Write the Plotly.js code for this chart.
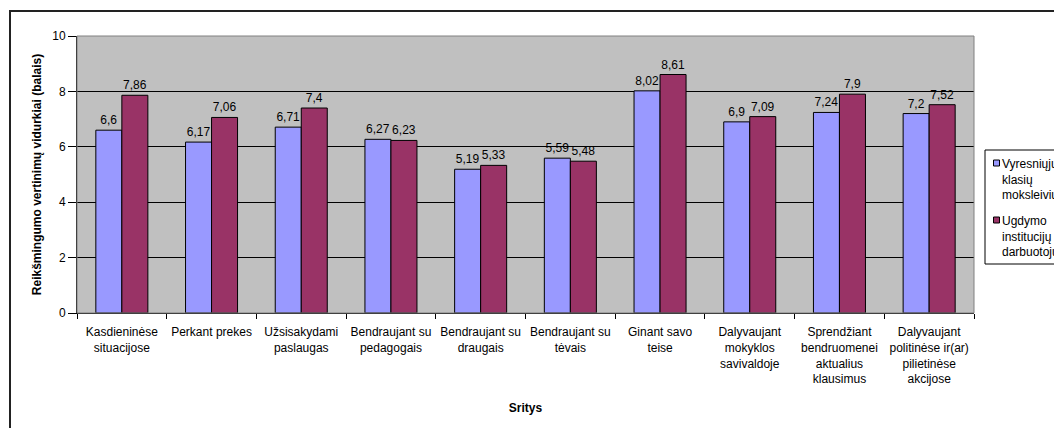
<!DOCTYPE html>
<html><head><meta charset="utf-8">
<script src="https://cdn.plot.ly/plotly-3.0.1.min.js"></script>
<style>body{margin:0;background:#fff}#c{width:1054px;height:428px}</style>
</head><body><div id="c"></div>
<script>
const categories = [
  "Kasdieninėse<br>situacijose",
  "Perkant prekes",
  "Užsisakydami<br>paslaugas",
  "Bendraujant su<br>pedagogais",
  "Bendraujant su<br>draugais",
  "Bendraujant su<br>tėvais",
  "Ginant savo<br>teise",
  "Dalyvaujant<br>mokyklos<br>savivaldoje",
  "Sprendžiant<br>bendruomenei<br>aktualius<br>klausimus",
  "Dalyvaujant<br>politinėse ir(ar)<br>pilietinėse<br>akcijose"
];
const seriesNames = ["Vyresniųjų<br>klasių<br>moksleivių", "Ugdymo<br>institucijų<br>darbuotojų"];
const seriesColors = ['#9999FF', '#993366'];
const students = [6.6, 6.17, 6.71, 6.27, 5.19, 5.59, 8.02, 6.9, 7.24, 7.2];
const staff = [7.86, 7.06, 7.4, 6.23, 5.33, 5.48, 8.61, 7.09, 7.9, 7.52];
const yTitle = "Reikšmingumo vertinimų vidurkiai (balais)";
const xTitle = "Sritys";

const fmt = v => String(v).replace('.', ',');
const font = "Liberation Sans, Arial, sans-serif";

// plot area in pixels
const L = 77, R = 974, T = 36, B = 313;
const px = p => (p - L) / (R - L);
const py = p => (B - p) / (B - T);

function bar(vals, name, color) {
  return {
    type: 'bar', x: categories, y: vals, name: name,
    marker: {color: color, line: {color: '#000', width: 1}},
    text: vals.map(fmt), textposition: 'outside', cliponaxis: false,
    textfont: {family: font, size: 12, color: '#000'},
    hoverinfo: 'skip'
  };
}

const data = [bar(students, seriesNames[0], seriesColors[0]), bar(staff, seriesNames[1], seriesColors[1])];

// custom legend (box, small square markers, texts)
const legendShapes = [
  {type: 'rect', xref: 'paper', yref: 'paper', x0: px(985), x1: px(1080), y0: py(264), y1: py(150),
   line: {color: '#000', width: 1}, fillcolor: '#fff', layer: 'above'}
];
const legendAnn = [];
const entryTop = [155, 212];
seriesNames.forEach((n, i) => {
  const cy = entryTop[i] + 8;
  legendShapes.push({type: 'rect', xref: 'paper', yref: 'paper',
    x0: px(993.5), x1: px(999.5), y0: py(cy + 3), y1: py(cy - 3),
    line: {color: '#000', width: 1}, fillcolor: seriesColors[i], layer: 'above'});
  legendAnn.push({xref: 'paper', yref: 'paper', x: px(1000), y: py(entryTop[i]),
    xanchor: 'left', yanchor: 'top', align: 'left', showarrow: false,
    text: n, font: {family: font, size: 12, color: '#000'}});
});

const layout = {
  width: 1054, height: 428,
  margin: {l: L, r: 1054 - R, t: T, b: 428 - B, autoexpand: false},
  paper_bgcolor: '#fff', plot_bgcolor: '#C0C0C0',
  font: {family: font, size: 12, color: '#000'},
  bargap: 0.42, bargroupgap: 0,
  showlegend: false,
  xaxis: {
    type: 'category', tickson: 'boundaries', ticks: 'outside', ticklen: 5, tickcolor: '#000',
    showline: true, linecolor: '#000', linewidth: 1, showgrid: false,
    tickfont: {family: font, size: 12}, tickangle: 0, ticklabelstandoff: 8,
    title: {text: xTitle, font: {family: font, size: 12, weight: 'bold'}, standoff: 18}
  },
  yaxis: {
    range: [0, 10], dtick: 2, ticks: 'outside', ticklen: 8, tickcolor: '#000',
    showline: true, linecolor: '#000', linewidth: 1,
    showgrid: true, gridcolor: '#000', gridwidth: 1, zeroline: false,
    tickfont: {family: font, size: 12},
    title: {text: yTitle, font: {family: font, size: 12, weight: 'bold'}, standoff: 8}
  },
  shapes: [
    {type: 'rect', xref: 'paper', yref: 'paper', x0: 0, x1: 1, y0: 0, y1: 1,
     line: {color: '#808080', width: 1}, layer: 'above'},
    {type: 'rect', xref: 'paper', yref: 'paper', x0: px(10), x1: 1.3, y0: -0.6, y1: py(11),
     line: {color: '#222', width: 2}, fillcolor: 'rgba(0,0,0,0)', layer: 'above'}
  ].concat(legendShapes),
  annotations: legendAnn
};

Plotly.newPlot('c', data, layout, {displayModeBar: false, staticPlot: true});
</script></body></html>
